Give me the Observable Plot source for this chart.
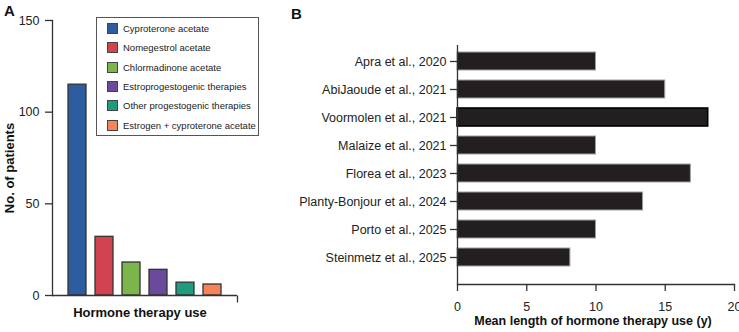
<!DOCTYPE html>
<html>
<head>
<meta charset="utf-8">
<script src="https://cdn.jsdelivr.net/npm/d3@7"></script>
<script src="https://cdn.jsdelivr.net/npm/@observablehq/plot@0.6"></script>
<style>
  body { margin: 0; background: #fff; font-family: "Liberation Sans", Arial, sans-serif; }
  #wrap { position: relative; width: 739px; height: 332px; overflow: hidden; }
  .panel { position: absolute; top: 0; }
  .panel svg { overflow: visible; }
  .tag { position: absolute; font-weight: bold; font-size: 15px; line-height: 1; color: #111; }
  .legend { position: absolute; left: 96px; top: 17px; width: 163px; height: 119px; box-sizing: border-box;
            border: 1px solid #555; background: #fff; font-size: 9.5px; color: #222; padding-top: 1px; }
  .legend .item { display: flex; align-items: center; height: 19.3px; padding-left: 10px; white-space: nowrap; }
  .legend .sw { flex: none; width: 11px; height: 11px; box-sizing: border-box; border: 1px solid #444; margin-right: 5px; }
</style>
</head>
<body>
<div id="wrap">
  <div class="panel" id="panelA" style="left:0"></div>
  <div class="panel" id="panelB" style="left:280px"></div>
  <div class="legend" id="legendA"></div>
  <div class="tag" style="left:4px;top:3px">A</div>
  <div class="tag" style="left:291px;top:6px">B</div>
</div>
<script>
// Panel A: number of patients by hormone therapy
const therapies = [
  "Cyproterone acetate",
  "Nomegestrol acetate",
  "Chlormadinone acetate",
  "Estroprogestogenic therapies",
  "Other progestogenic therapies",
  "Estrogen + cyproterone acetate"
];
const patients = [115, 32, 18, 14, 7, 6];
const therapyColors = ["#2d5d9f", "#d1434f", "#7cb64a", "#6a4a9a", "#1d9c7f", "#f5845a"];
const patientTicks = [0, 50, 100, 150];

// Panel B: mean length of hormone therapy use per study
const studies = [
  "Apra et al., 2020",
  "AbiJaoude et al., 2021",
  "Voormolen et al., 2021",
  "Malaize et al., 2021",
  "Florea et al., 2023",
  "Planty-Bonjour et al., 2024",
  "Porto et al., 2025",
  "Steinmetz et al., 2025"
];
const meanYears = [10, 15, 18.1, 10, 16.85, 13.4, 10, 8.15];
const yearTicks = [0, 5, 10, 15, 20];
const highlightedStudy = "Voormolen et al., 2021";

const font = "Liberation Sans, Arial, sans-serif";
const axisColor = "#333";

const rowsA = therapies.map((therapy, i) => ({therapy, patients: patients[i]}));
const rowsB = studies.map((study, i) => ({study, years: meanYears[i]}));

// small downward tick closing the end of the category axis
const endTick = {draw(ctx) { ctx.moveTo(0, 0); ctx.lineTo(0, 7); }};

const plotA = Plot.plot({
  width: 370,
  height: 332,
  marginLeft: 52,
  marginRight: 133,
  marginTop: 20,
  marginBottom: 37,
  style: {fontFamily: font, fontSize: "12.5px", color: "#222", background: "transparent"},
  x: {domain: therapies, padding: 0.34, insetLeft: 6, insetRight: 6, axis: null},
  y: {domain: [0, 150]},
  color: {domain: therapies, range: therapyColors},
  marks: [
    Plot.barY(rowsA, {x: "therapy", y: "patients", fill: "therapy", stroke: "#333", strokeWidth: 1.3}),
    Plot.frame({anchor: "left", stroke: axisColor, strokeWidth: 1.3}),
    Plot.ruleY([0], {stroke: axisColor, strokeWidth: 1.3}),
    Plot.dot([0], {frameAnchor: "bottom-right", symbol: endTick, r: 4, stroke: axisColor, strokeWidth: 1.3, fill: "none"}),
    Plot.axisY({ticks: patientTicks, tickSize: 7, tickPadding: 6, stroke: axisColor, strokeWidth: 1.3, label: null, fontSize: 12.5}),
    Plot.text(["No. of patients"], {frameAnchor: "left", textAnchor: "middle", rotate: -90, dx: -43, dy: 10, fontWeight: "bold", fontSize: 13, fill: "#111"}),
    Plot.text(["Hormone therapy use"], {frameAnchor: "bottom", dx: -5, dy: 21, fontWeight: "bold", fontSize: 13, fill: "#111"})
  ]
});
document.getElementById("panelA").append(plotA);

const plotB = Plot.plot({
  width: 459,
  height: 332,
  marginLeft: 177,
  marginRight: 5,
  marginTop: 45,
  marginBottom: 48,
  style: {fontFamily: font, fontSize: "12.5px", color: "#222", background: "transparent"},
  x: {domain: [0, 20]},
  y: {domain: studies, padding: 0.36, insetTop: -4, insetBottom: 8},
  marks: [
    Plot.barX(rowsB, {
      y: "study",
      x: "years",
      fill: "#231f20",
      stroke: d => d.study === highlightedStudy ? "#000" : "#a0a0a0",
      strokeWidth: d => d.study === highlightedStudy ? 1.6 : 1
    }),
    Plot.ruleX([0], {stroke: axisColor, strokeWidth: 1.3}),
    Plot.frame({anchor: "bottom", stroke: axisColor, strokeWidth: 1.3}),
    Plot.axisX({ticks: yearTicks, tickSize: 7, tickPadding: 11, stroke: axisColor, strokeWidth: 1.3, label: null, fontSize: 12.5}),
    Plot.axisY({tickSize: 7, tickPadding: 4, stroke: axisColor, strokeWidth: 1.3, label: null, fontSize: 12.5}),
    Plot.text(["Mean length of hormone therapy use (y)"], {frameAnchor: "bottom", dx: -3, dy: 40, fontWeight: "bold", fontSize: 12.5, fill: "#111"})
  ]
});
document.getElementById("panelB").append(plotB);

// Legend for panel A
const legend = d3.select("#legendA");
therapies.forEach((t, i) => {
  const item = legend.append("div").attr("class", "item");
  item.append("div").attr("class", "sw").style("background", therapyColors[i]);
  item.append("span").text(t);
});
</script>
</body>
</html>
